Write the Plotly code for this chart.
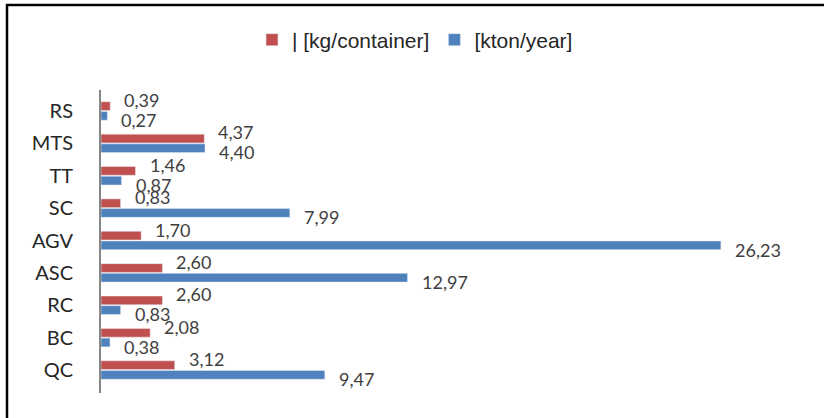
import plotly.graph_objects as go

categories = ["RS", "MTS", "TT", "SC", "AGV", "ASC", "RC", "BC", "QC"]
kg_container = [0.39, 4.37, 1.46, 0.83, 1.70, 2.60, 2.60, 2.08, 3.12]
kton_year = [0.27, 4.40, 0.87, 7.99, 26.23, 12.97, 0.83, 0.38, 9.47]
series_names = ["| [kg/container]", "[kton/year]"]

RED = "#C0504D"
BLUE = "#4F81BD"
W, H = 824, 418
ML, MR, MT, MB = 101, 14, 90, 25
PW, PH = W - ML - MR, H - MT - MB


def px_x(px):
    return (px - ML) / PW


def px_y(py):
    return (H - MB - py) / PH


def fmt(v):
    return f"{v:.2f}".replace(".", ",")


fig = go.Figure()
fig.add_trace(go.Bar(y=categories, x=kg_container, orientation="h", name=series_names[0],
                     marker_color=RED, hoverinfo="x+y"))
fig.add_trace(go.Bar(y=categories, x=kton_year, orientation="h", name=series_names[1],
                     marker_color=BLUE, hoverinfo="x+y"))

label_font = dict(family="Lato", size=18, color="#404040")
annotations = []
for cat, v in zip(categories, kg_container):
    annotations.append(dict(x=v, y=cat, text=fmt(v), showarrow=False, xanchor="left",
                            yanchor="middle", xshift=13, yshift=11, font=label_font, borderpad=0))
for cat, v in zip(categories, kton_year):
    annotations.append(dict(x=v, y=cat, text=fmt(v), showarrow=False, xanchor="left",
                            yanchor="middle", xshift=13, yshift=-9, font=label_font, borderpad=0))

shapes = [
    dict(type="line", xref="paper", yref="paper", x0=px_x(6), x1=px_x(W + 2), y0=px_y(5), y1=px_y(5),
         line=dict(color="black", width=2.5)),
    dict(type="line", xref="paper", yref="paper", x0=px_x(7), x1=px_x(7), y0=px_y(4), y1=px_y(H + 2),
         line=dict(color="black", width=2.5)),
]

fig.update_layout(
    width=W, height=H,
    margin=dict(l=ML, r=MR, t=MT, b=MB),
    paper_bgcolor="white", plot_bgcolor="white",
    barmode="group", bargap=0.40, bargroupgap=0.1,
    font=dict(family="Lato", color="#404040"),
    showlegend=True,
    legend=dict(orientation="h", x=px_x(415), y=px_y(40), xanchor="center", yanchor="middle",
                font=dict(family="Liberation Sans", size=21, color="#262626"), itemwidth=30,
                traceorder="normal"),
    xaxis=dict(range=[0, 30], showgrid=False, zeroline=False, showticklabels=False,
               showline=False, fixedrange=True),
    yaxis=dict(categoryorder="array", categoryarray=categories, autorange="reversed",
               showgrid=False, zeroline=False, showline=True, linecolor="#868686", linewidth=2,
               ticks="", ticklabelstandoff=22,
               tickfont=dict(family="Lato", size=20, color="#262626")),
    annotations=annotations,
    shapes=shapes,
)

fig.write_html("out.html")
